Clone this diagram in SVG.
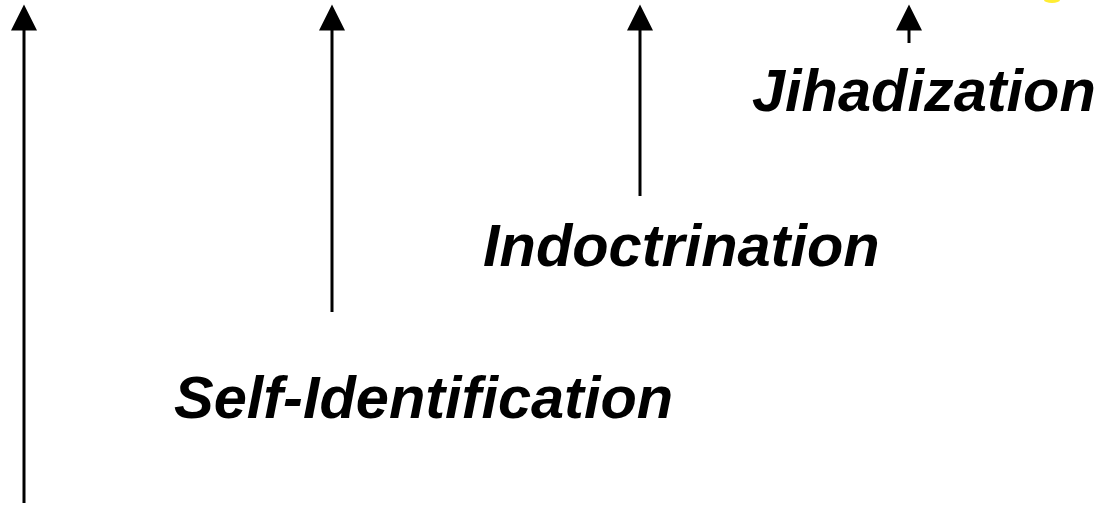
<svg xmlns="http://www.w3.org/2000/svg" width="1101" height="505" viewBox="0 0 1101 505">
<style>
.lbl{font-family:"Liberation Sans",Arial,sans-serif;font-weight:bold;font-style:italic;font-size:59.5px;fill:#000}
.ln{stroke:#000;stroke-width:3;fill:none}
</style>
<defs>
<marker id="ah" markerUnits="userSpaceOnUse" markerWidth="26" markerHeight="26" refX="10" refY="12.5" viewBox="0 0 25 25" orient="auto" overflow="visible">
<path d="M0 0 L25 12.5 L0 25 Z" fill="#000"/>
</marker>
</defs>
<rect width="1101" height="505" fill="#fff"/>
<ellipse cx="1052" cy="0" rx="8" ry="3" fill="#ffe800" opacity="0.8"/>
<g id="connectors">
<line class="ln" x1="24" y1="503" x2="24" y2="20" marker-end="url(#ah)"/>
<line class="ln" x1="332" y1="312" x2="332" y2="20" marker-end="url(#ah)"/>
<line class="ln" x1="640" y1="196" x2="640" y2="20" marker-end="url(#ah)"/>
<line class="ln" x1="909" y1="43" x2="909" y2="20" marker-end="url(#ah)"/>
</g>
<g id="self-identification"><text class="lbl" x="174" y="418">Self-Identification</text></g>
<g id="indoctrination"><text class="lbl" x="483" y="266">Indoctrination</text></g>
<g id="jihadization"><text class="lbl" x="752" y="111">Jihadization</text></g>
</svg>
